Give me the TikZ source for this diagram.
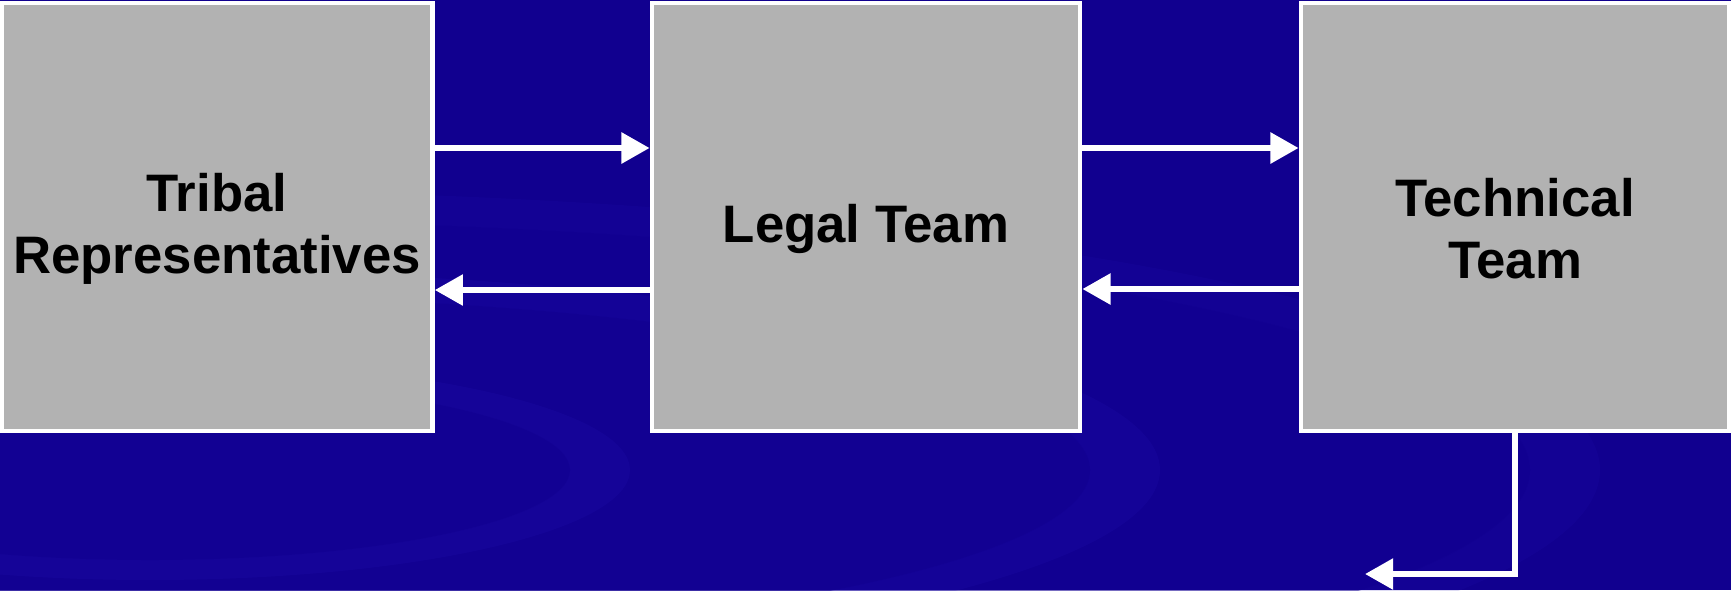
\documentclass[tikz,border=0pt]{standalone}
\usepackage{fontspec}
\setmainfont{Liberation Sans}
\usepackage{xcolor}
\usetikzlibrary{arrows.meta}
\definecolor{slideblue}{HTML}{11008F}
\definecolor{swirlblue}{HTML}{2414B4}
\definecolor{boxgrey}{HTML}{B2B2B2}
\newcommand{\topgap}{\rule{0pt}{17.5pt}}
\tikzset{
    teambox/.style={draw=white, line width=1.3pt, fill=boxgrey,
        minimum width=4.28cm, minimum height=4.28cm, align=center,
        font=\bfseries\fontsize{15}{17.5}\selectfont, text=black},
    flow/.style={draw=white, line width=1.7pt,
        -{Triangle[length=8pt, width=8.5pt]}}
}

\begin{document}
\begin{tikzpicture}[x=0.01cm, y=-0.01cm]
    \useasboundingbox (0,0) rectangle (1731,590);
    \fill[slideblue] (0,0) rectangle (1731,590);
    % swirl in the background
    \begin{scope}
        \clip (0,0) rectangle (1731,590);
        \fill[swirlblue, opacity=0.15] (150,470) ellipse (1450 and 280);
        \fill[slideblue, opacity=0.5] (150,470) ellipse (1380 and 250);
        \fill[swirlblue, opacity=0.18] (150,470) ellipse (1010 and 200);
        \fill[slideblue, opacity=0.5] (150,470) ellipse (940 and 175);
        \fill[swirlblue, opacity=0.18] (150,470) ellipse (480 and 110);
        \fill[slideblue, opacity=0.5] (150,470) ellipse (420 and 90);
    \end{scope}

    \node[teambox] (tribal) at (217,217) {\topgap Tribal\\Representatives};
    \node[teambox] (legal) at (866,217) {\topgap Legal Team};
    \node[teambox] (technical) at (1515,217) {\topgap Technical\\Team};

    \draw[flow] (tribal.east |- 0,148) -- (legal.west |- 0,148);
    \draw[flow] (legal.west |- 0,290) -- (tribal.east |- 0,290);
    \draw[flow] (legal.east |- 0,148) -- (technical.west |- 0,148);
    \draw[flow] (technical.west |- 0,289) -- (legal.east |- 0,289);

    %%%%%%

    \coordinate (out) at (1365,574);
    \draw[flow] (technical.south) |- (out);
\end{tikzpicture}
\end{document}
